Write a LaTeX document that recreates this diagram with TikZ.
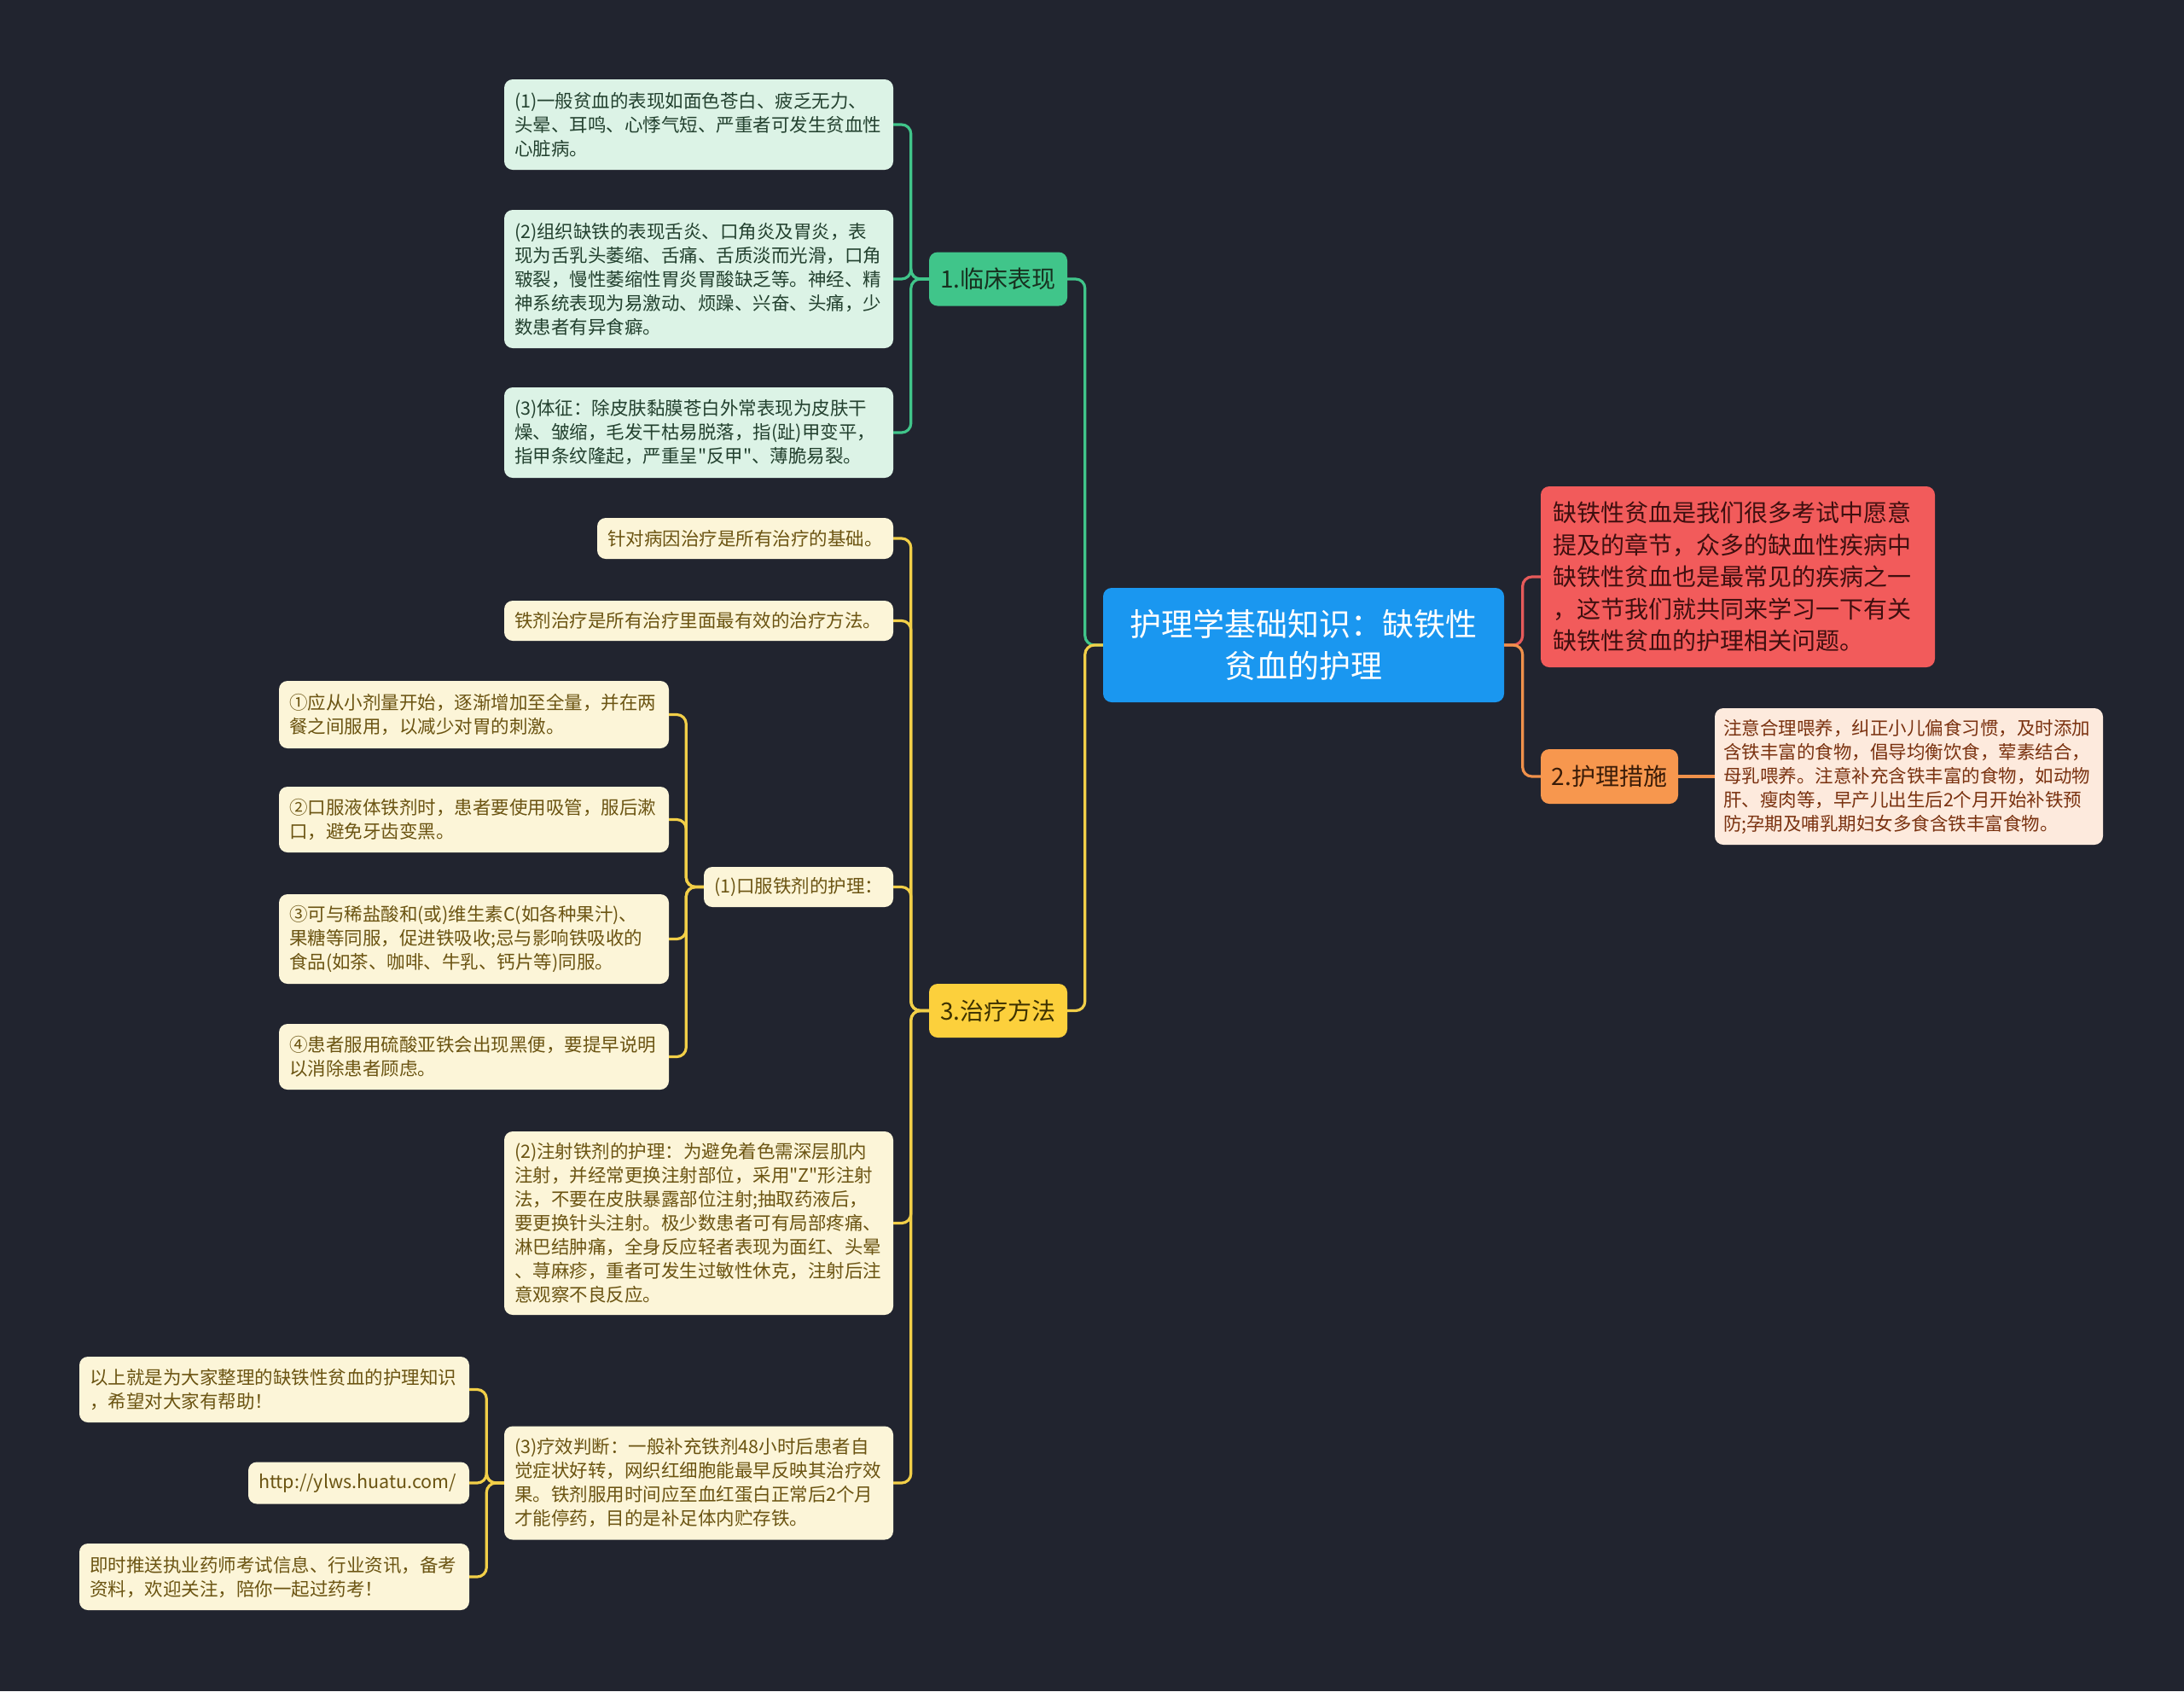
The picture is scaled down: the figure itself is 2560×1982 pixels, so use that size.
\documentclass[tikz,border=0pt]{standalone}
\usepackage{fontspec}
\setmainfont{Noto Sans CJK SC}[Ligatures=TeXOff]
\definecolor{bg}{HTML}{21242F}
\definecolor{gmain}{HTML}{40C58A}
\definecolor{gleafbg}{HTML}{DCF3E6}
\definecolor{gleaftx}{HTML}{23412F}
\definecolor{gmaintx}{HTML}{17301F}
\definecolor{rootblue}{HTML}{1A97F0}
\definecolor{redbox}{HTML}{F25B5B}
\definecolor{redtx}{HTML}{3F0F0F}
\definecolor{orange}{HTML}{F7974E}
\definecolor{orangetx}{HTML}{3A1C08}
\definecolor{peachbg}{HTML}{FDEADD}
\definecolor{peachtx}{HTML}{7A3210}
\definecolor{ymain}{HTML}{FCD03C}
\definecolor{ymaintx}{HTML}{3D3100}
\definecolor{creambg}{HTML}{FCF5D8}
\definecolor{creamtx}{HTML}{6B5412}
\definecolor{yconn}{HTML}{F2CF48}
\definecolor{oconn}{HTML}{F0914B}
\definecolor{rconn}{HTML}{E65A5A}
\tikzset{
  box/.style={rounded corners=10pt, inner xsep=12pt, inner ysep=0pt, align=left},
  gleaf/.style={box, fill=gleafbg, text=gleaftx, font=\fontsize{21.5}{28}\selectfont},
  yleaf/.style={box, fill=creambg, text=creamtx, font=\fontsize{21.5}{28}\selectfont},
  pleaf/.style={box, fill=peachbg, text=peachtx, inner xsep=10pt, font=\fontsize{21.5}{28}\selectfont},
  mainbox/.style={rounded corners=10pt, inner sep=0pt, align=center, font=\fontsize{28}{36}\selectfont},
  rootbox/.style={rounded corners=10pt, inner sep=0pt, align=center, fill=rootblue, text=white, font=\fontsize{37}{49}\selectfont},
  conn/.style={line width=3.2pt, rounded corners=11pt},
  gconn/.style={conn, draw=gmain},
  yconnst/.style={conn, draw=yconn},
  oconnst/.style={conn, draw=oconn},
  rconnst/.style={conn, draw=rconn},
}
\begin{document}
\begin{tikzpicture}[x=1pt,y=-1pt]
\fill[bg] (0,0) rectangle (2560,1982);
\useasboundingbox (0,0) rectangle (2560,1982);

% root
\node[rootbox, minimum width=470, minimum height=134] (root) at (1528,756) {护理学基础知识：缺铁性\\贫血的护理};

% right side
\node[box, fill=redbox, text=redtx, inner xsep=14pt, text width=434, minimum height=212, font=\fontsize{28}{37.5}\selectfont] (intro) at (2037,676) {缺铁性贫血是我们很多考试中愿意\\提及的章节，众多的缺血性疾病中\\缺铁性贫血也是最常见的疾病之一\\，这节我们就共同来学习一下有关\\缺铁性贫血的护理相关问题。};
\node[mainbox, fill=orange, text=orangetx, minimum width=161, minimum height=64] (m2) at (1886.5,910) {2.护理措施};
\node[pleaf, text width=435, minimum height=160] (p1) at (2237.5,910) {注意合理喂养，纠正小儿偏食习惯，及时添加\\含铁丰富的食物，倡导均衡饮食，荤素结合，\\母乳喂养。注意补充含铁丰富的食物，如动物\\肝、瘦肉等，早产儿出生后2个月开始补铁预\\防;孕期及哺乳期妇女多食含铁丰富食物。};

% branch 1
\node[mainbox, fill=gmain, text=gmaintx, minimum width=162, minimum height=63] (m1) at (1170,327) {1.临床表现};
\node[gleaf, text width=432, minimum height=106] (c1) at (819,146) {(1)一般贫血的表现如面色苍白、疲乏无力、\\头晕、耳鸣、心悸气短、严重者可发生贫血性\\心脏病。};
\node[gleaf, text width=432, minimum height=162] (c2) at (819,327) {(2)组织缺铁的表现舌炎、口角炎及胃炎，表\\现为舌乳头萎缩、舌痛、舌质淡而光滑，口角\\皲裂，慢性萎缩性胃炎胃酸缺乏等。神经、精\\神系统表现为易激动、烦躁、兴奋、头痛，少\\数患者有异食癖。};
\node[gleaf, text width=432, minimum height=106] (c3) at (819,507) {(3)体征：除皮肤黏膜苍白外常表现为皮肤干\\燥、皱缩，毛发干枯易脱落，指(趾)甲变平，\\指甲条纹隆起，严重呈"反甲"、薄脆易裂。};

% branch 3
\node[mainbox, fill=ymain, text=ymaintx, minimum width=162, minimum height=63] (m3) at (1170,1184.5) {3.治疗方法};
\node[yleaf, text width=323, minimum height=48] (t1) at (873.5,631) {针对病因治疗是所有治疗的基础。};
\node[yleaf, text width=432, minimum height=47] (t2) at (819,727.5) {铁剂治疗是所有治疗里面最有效的治疗方法。};
\node[yleaf, text width=198, minimum height=47] (t3) at (936,1039.5) {(1)口服铁剂的护理：};
\node[yleaf, text width=433, minimum height=79] (s1) at (555.5,837.5) {①应从小剂量开始，逐渐增加至全量，并在两\\餐之间服用，以减少对胃的刺激。};
\node[yleaf, text width=433, minimum height=77] (s2) at (555.5,960.5) {②口服液体铁剂时，患者要使用吸管，服后漱\\口，避免牙齿变黑。};
\node[yleaf, text width=433, minimum height=105] (s3) at (555.5,1100.5) {③可与稀盐酸和(或)维生素C(如各种果汁)、\\果糖等同服，促进铁吸收;忌与影响铁吸收的\\食品(如茶、咖啡、牛乳、钙片等)同服。};
\node[yleaf, text width=433, minimum height=77] (s4) at (555.5,1238.5) {④患者服用硫酸亚铁会出现黑便，要提早说明\\以消除患者顾虑。};
\node[yleaf, text width=432, minimum height=215] (t4) at (819,1433.5) {(2)注射铁剂的护理：为避免着色需深层肌内\\注射，并经常更换注射部位，采用"Z"形注射\\法，不要在皮肤暴露部位注射;抽取药液后，\\要更换针头注射。极少数患者可有局部疼痛、\\淋巴结肿痛，全身反应轻者表现为面红、头晕\\、荨麻疹，重者可发生过敏性休克，注射后注\\意观察不良反应。};
\node[yleaf, text width=432, minimum height=133] (t5) at (819,1738) {(3)疗效判断：一般补充铁剂48小时后患者自\\觉症状好转，网织红细胞能最早反映其治疗效\\果。铁剂服用时间应至血红蛋白正常后2个月\\才能停药，目的是补足体内贮存铁。};
\node[yleaf, text width=433, minimum height=77] (u1) at (321.5,1628.5) {以上就是为大家整理的缺铁性贫血的护理知识\\，希望对大家有帮助！};
\node[yleaf, text width=235, minimum height=49] (u2) at (420.5,1738) {http://ylws.huatu.com/};
\node[yleaf, text width=433, minimum height=78] (u3) at (321.5,1848) {即时推送执业药师考试信息、行业资讯，备考\\资料，欢迎关注，陪你一起过药考！};

% connectors
\draw[gconn] (root.west) -- ++(-21,0) |- (m1.east);
\draw[yconnst] (root.west) -- ++(-21,0) |- (m3.east);
\draw[rconnst] (root.east) -- ++(21.5,0) |- (intro.west);
\draw[oconnst] (root.east) -- ++(21.5,0) |- (m2.west);
\draw[oconnst] (m2.east) -- (p1.west);

\foreach \c in {c1,c2,c3} \draw[gconn] (m1.west) -- ++(-21,0) |- (\c.east);
\foreach \c in {t1,t2,t3,t4,t5} \draw[yconnst] (m3.west) -- ++(-21,0) |- (\c.east);
\foreach \c in {s1,s2,s3,s4} \draw[yconnst] (t3.west) -- ++(-20.5,0) |- (\c.east);
\foreach \c in {u1,u2,u3} \draw[yconnst] (t5.west) -- ++(-20.5,0) |- (\c.east);
\end{tikzpicture}
\end{document}
